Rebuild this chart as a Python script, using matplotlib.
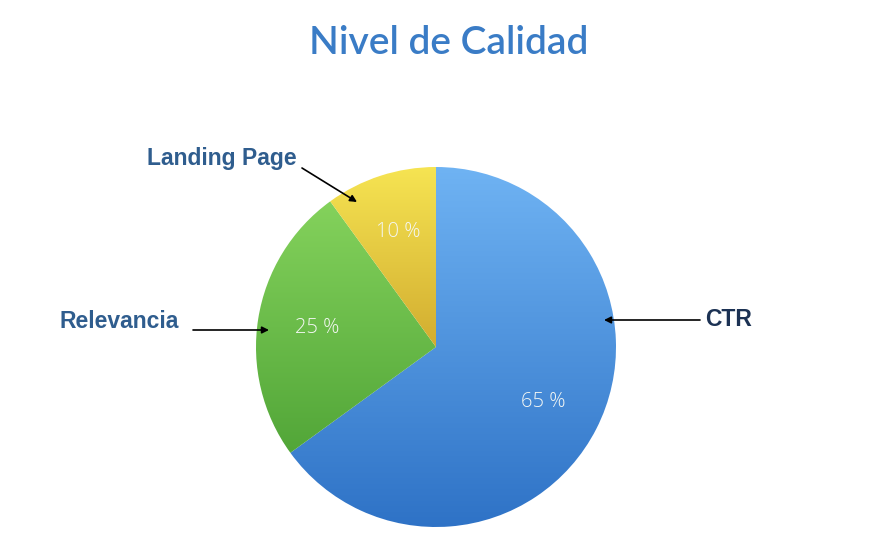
import numpy as np
import matplotlib
matplotlib.use("Agg")
import matplotlib.pyplot as plt
from matplotlib.colors import LinearSegmentedColormap

# Data
categories = ["CTR", "Relevancia", "Landing Page"]
values = [65, 25, 10]
pct_labels = ["65 %", "25 %", "10 %"]
title = "Nivel de Calidad"

# Gradient colours (top, bottom) per slice
grad_colors = [("#6fb3f3", "#2e72c6"), ("#84d25c", "#52a638"), ("#f6e452", "#d2ad30")]

W, H = 885, 541
fig = plt.figure(figsize=(W / 100, H / 100), dpi=100)
ax = fig.add_axes([0, 0, 1, 1])

cx, cy, R = 436, 347, 180
wedges, _ = ax.pie(values, startangle=-90, counterclock=True, center=(cx, cy),
                   radius=R, frame=True)
# With inverted y axis, counterclockwise in data coords appears clockwise on screen
ax.set_xlim(0, W)
ax.set_ylim(H, 0)
ax.set_aspect("equal")
ax.axis("off")

for w, (ctop, cbot) in zip(wedges, grad_colors):
    w.set_facecolor("none")
    w.set_edgecolor("none")
    verts = w.get_path().vertices
    y0, y1 = verts[:, 1].min(), verts[:, 1].max()
    cmap = LinearSegmentedColormap.from_list("g", [ctop, cbot])
    grad = np.linspace(0, 1, 256).reshape(-1, 1)
    im = ax.imshow(grad, cmap=cmap, extent=(cx - R, cx + R, y1, y0),
                   aspect="auto", zorder=1, interpolation="bilinear")
    im.set_clip_path(w)

# Percentage labels
theta = np.cumsum([0] + values)
for i, lab in enumerate(pct_labels):
    mid = (theta[i] + theta[i + 1]) / 2 / 100 * 360
    ang = np.deg2rad(90 - mid)
    x = cx + 0.67 * R * np.cos(ang)
    y = cy - 0.67 * R * np.sin(ang)
    ax.text(x, y, lab, color="#f4f7f4", fontsize=14.5, family="Open Sans",
            fontweight="light", ha="center", va="center", zorder=3)

ax.set_xlim(0, W)
ax.set_ylim(H, 0)

# Title
ax.text(449, 43, title, color="#3a7cc6", fontsize=28, family="Lato",
        fontweight="semibold", ha="center", va="center")

# Category labels with arrows
label_pos = {"CTR": (729, 320), "Relevancia": (119, 321), "Landing Page": (222, 159)}
label_col = {"CTR": "#1c3254", "Relevancia": "#2f5d8e", "Landing Page": "#2f5d8e"}
arrows = {"CTR": ((700, 320), (604, 320)),
          "Relevancia": ((193, 330), (269, 330)),
          "Landing Page": ((302, 168), (357, 202))}
for c in categories:
    x, y = label_pos[c]
    ax.text(x, y, c, color=label_col[c], fontsize=16.5, family="Liberation Sans",
            fontweight="bold", ha="center", va="center")
    (x0, y0), (x1, y1) = arrows[c]
    ax.annotate("", xy=(x1, y1), xytext=(x0, y0),
                arrowprops=dict(arrowstyle="-|>", color="black", lw=1.2,
                                mutation_scale=10, shrinkA=0, shrinkB=0), zorder=4)

fig.savefig("out.png", dpi=100, facecolor="white")
